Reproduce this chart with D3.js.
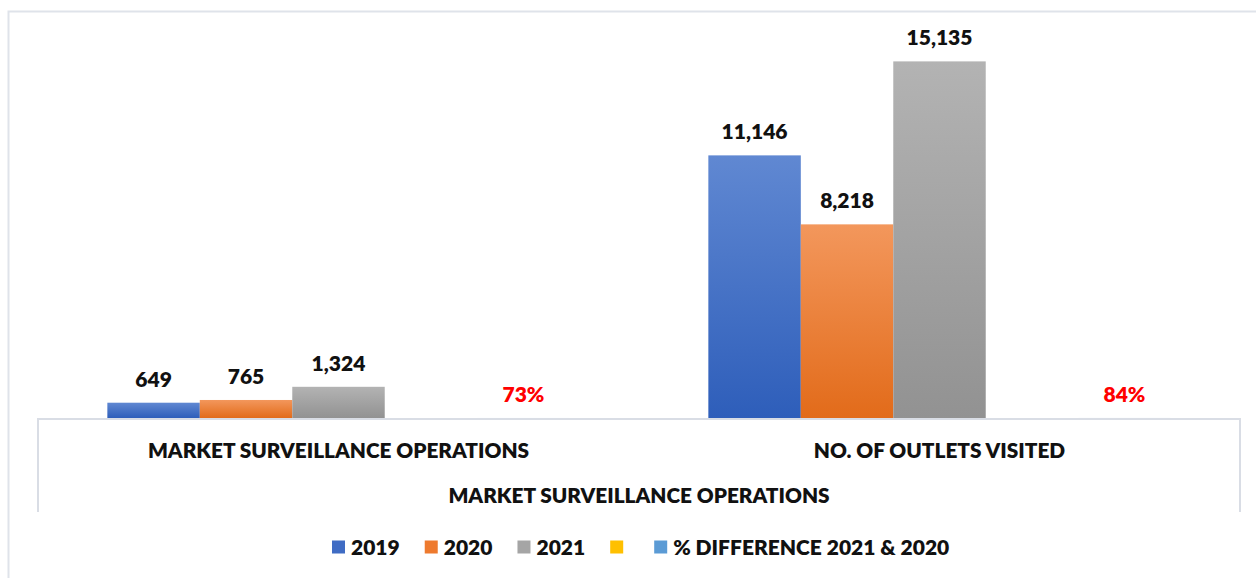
<!DOCTYPE html>
<html>
<head>
<meta charset="utf-8">
<script src="https://cdn.jsdelivr.net/npm/d3@7"></script>
<style>
  html, body { margin: 0; padding: 0; background: #ffffff; }
  svg { display: block; }
  text { font-family: Lato, "Open Sans", sans-serif; font-weight: 800; }
</style>
</head>
<body>
<svg id="chart" width="1256" height="578"></svg>
<script>
// Categories and series
const categories = ["MARKET SURVEILLANCE OPERATIONS", "NO. OF OUTLETS VISITED"];
const groupLabel = "MARKET SURVEILLANCE OPERATIONS";
const seriesNames = ["2019", "2020", "2021", "", "% DIFFERENCE 2021 & 2020"];
const values2019 = [649, 11146];
const values2020 = [765, 8218];
const values2021 = [1324, 15135];
const valuesBlank = [null, null];
const pctDifference = [0.73, 0.84];

const seriesValues = [values2019, values2020, values2021, valuesBlank, pctDifference];
const seriesColors = [
  ["#6088d2", "#2e5eba"],
  ["#f3975c", "#e26b1a"],
  ["#b3b3b3", "#929292"],
  ["#ffc000", "#ffc000"],
  ["#5b9bd5", "#5b9bd5"]
];
const legendColors = ["#3f6cc4", "#ee7a2e", "#a5a5a5", "#ffc000", "#5b9bd5"];

const svg = d3.select("#chart");

// Gradient fills, light at the top of each bar
const defs = svg.append("defs");
seriesColors.forEach((c, i) => {
  const g = defs.append("linearGradient")
    .attr("id", "grad" + i)
    .attr("x1", 0).attr("y1", 0).attr("x2", 0).attr("y2", 1);
  g.append("stop").attr("offset", "0%").attr("stop-color", c[0]);
  g.append("stop").attr("offset", "100%").attr("stop-color", c[1]);
});

// Outer chart border (top and left)
svg.append("path")
  .attr("d", "M8.5,578 V11.5 H1256")
  .attr("fill", "none")
  .attr("stroke", "#dfe3ea")
  .attr("stroke-width", 2);

const plot = { left: 38, right: 1240, top: 41, bottom: 418 };

const x0 = d3.scaleBand()
  .domain(categories)
  .range([plot.left, plot.right])
  .paddingInner(0).paddingOuter(0);

const x1 = d3.scaleBand()
  .domain(d3.range(seriesNames.length))
  .range([0, x0.bandwidth()])
  .paddingInner(0)
  .paddingOuter(0.75);

const y = d3.scaleLinear()
  .domain([0, 16000])
  .range([plot.bottom, plot.top]);

const rows = [];
seriesValues.forEach((vals, si) => {
  vals.forEach((v, ci) => {
    if (v !== null) rows.push({ si, ci, v, cat: categories[ci] });
  });
});

// Bars
svg.append("g").selectAll("rect")
  .data(rows)
  .join("rect")
  .attr("x", d => x0(d.cat) + x1(d.si))
  .attr("width", x1.bandwidth())
  .attr("y", d => y(d.v))
  .attr("height", d => y(0) - y(d.v))
  .attr("fill", d => "url(#grad" + d.si + ")");

// Value labels
const fmtCount = d3.format(",");
const fmtPct = d3.format(".0%");
svg.append("g").selectAll("text")
  .data(rows)
  .join("text")
  .attr("x", d => x0(d.cat) + x1(d.si) + x1.bandwidth() / 2)
  .attr("y", d => y(d.v) - 16)
  .attr("text-anchor", "middle")
  .attr("font-size", 21)
  .attr("fill", d => d.si === 4 ? "#ff0000" : "#111111")
  .text(d => d.si === 4 ? fmtPct(d.v) : fmtCount(d.v));

// Category axis box
const axisColor = "#d9dde5";
svg.append("path")
  .attr("d", `M${plot.left},512 V419 H${plot.right} V512`)
  .attr("fill", "none")
  .attr("stroke", axisColor)
  .attr("stroke-width", 2);

// First-level category labels
svg.append("g").selectAll("text")
  .data(categories)
  .join("text")
  .attr("x", d => x0(d) + x0.bandwidth() / 2)
  .attr("y", 458)
  .attr("text-anchor", "middle")
  .attr("font-size", 20.8)
  .attr("fill", "#111111")
  .text(d => d);

// Second-level group label
svg.append("text")
  .attr("x", (plot.left + plot.right) / 2)
  .attr("y", 503)
  .attr("text-anchor", "middle")
  .attr("font-size", 20.8)
  .attr("fill", "#111111")
  .text(groupLabel);

// Legend
const legend = svg.append("g");
let lx = 0;
const sq = 13;
seriesNames.forEach((name, i) => {
  const item = legend.append("g").attr("transform", `translate(${lx},0)`);
  item.append("rect")
    .attr("x", 0).attr("y", -sq / 2 - 1)
    .attr("width", sq).attr("height", sq)
    .attr("fill", legendColors[i]);
  const t = item.append("text")
    .attr("x", sq + 6)
    .attr("y", 6.5)
    .attr("font-size", 21)
    .attr("fill", "#111111")
    .text(name);
  const w = name ? t.node().getComputedTextLength() : 0;
  lx += sq + 6 + w + 25;
});
legend.attr("transform", `translate(${332},548)`);
</script>
</body>
</html>
